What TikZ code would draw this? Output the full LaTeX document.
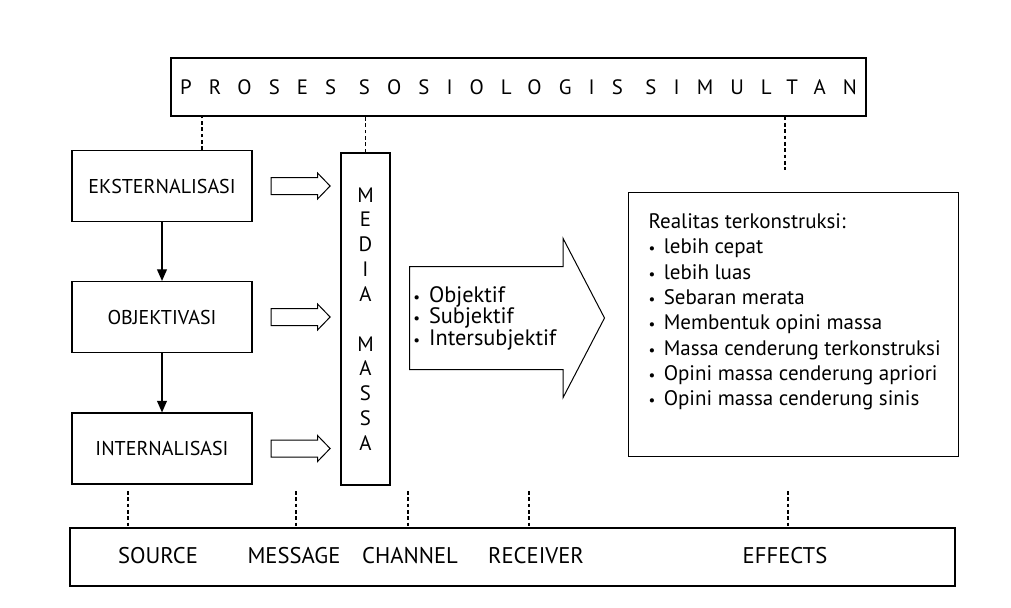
\documentclass[tikz,border=0pt]{standalone}
\usepackage{fontspec}
\setmainfont{PT Sans}
\usetikzlibrary{arrows.meta, shapes.arrows, calc}
\newcommand{\butir}{{\small\textbullet}\hspace{.4em}}

\begin{document}
\begin{tikzpicture}[x=0.6pt,y=-0.6pt,
  kotak/.style={draw, line width=.7pt, inner sep=0pt},
  lbox/.style={kotak, minimum width=108pt, minimum height=42.6pt, font=\fontsize{12}{14}\selectfont},
  panah/.style={draw, line width=.6pt, single arrow, inner xsep=0pt, inner ysep=4.8pt,
    single arrow head extend=2.7pt, single arrow tip angle=92, minimum height=35.4pt},
  titik/.style={line width=.8pt, dash pattern=on 2.2pt off 1.6pt},
  turun/.style={line width=.7pt, -{Triangle[length=7pt,width=6pt]}},
  label/.style={font=\fontsize{13.6}{15}\selectfont}]
\useasboundingbox (0,0) rectangle (1011,608);

\node[kotak, minimum width=417pt, minimum height=34.8pt, font=\fontsize{12.5}{14}\selectfont\addfontfeatures{LetterSpace=82}]
  (proses) at (518.5,87) {PROSES SOSIOLOGIS SIMULTAN};

\node[lbox] (eks) at (162,186) {EKSTERNALISASI};
\node[lbox] (obj) at (162,317) {OBJEKTIVASI};
\node[lbox] (int) at (162,448.5) {INTERNALISASI};
\draw[turun] (eks) -- (obj);
\draw[turun] (obj) -- (int);

\node[kotak, minimum width=29.4pt, minimum height=199.2pt, align=center,
  font=\fontsize{12.5}{14.9}\selectfont] (media) at (365.5,319)
  {M\\E\\D\\I\\A\\[14.9pt]M\\A\\S\\S\\A};

\node[panah] (p1) at ($(eks.east)!.5!(eks.east -| media.west)$) {};
\node[panah] (p2) at ($(obj.east)!.5!(obj.east -| media.west)$) {};
\node[panah] (p3) at ($(int.east)!.5!(int.east -| media.west)$) {};

\node[draw, line width=.6pt, single arrow, inner xsep=0pt, inner ysep=30.6pt, anchor=tail,
  minimum height=117pt, single arrow head extend=16.8pt, single arrow tip angle=125]
  (besar) at (409,318) {};
\node[anchor=west, align=left, inner sep=0pt, font=\fontsize{13.4}{12.9}\selectfont] (jenis) at ([xshift=2.4pt]besar.tail)
  {\butir Objektif\\\butir Subjektif\\\butir Intersubjektif};

\node[kotak, anchor=north west, inner xsep=12pt, inner ysep=11pt, font=\fontsize{12.6}{15.2}\selectfont]
  (realitas) at (628,192) {\begin{minipage}[c][136.4pt][t]{174pt}
  \begin{tabular}{@{}l@{}}
  Realitas terkonstruksi:\\
  \butir lebih cepat\\
  \butir lebih luas\\
  \butir Sebaran merata\\
  \butir Membentuk opini massa\\
  \butir Massa cenderung terkonstruksi\\
  \butir Opini massa cenderung apriori\\
  \butir Opini massa cenderung sinis
  \end{tabular}
  \end{minipage}};

\node[kotak, minimum width=531pt, minimum height=34.8pt] (bawah) at (512.5,557) {};
\node[label] (src) at (158,556) {SOURCE};
\node[label] (msg) at (294,556) {MESSAGE};
\node[label] (chn) at (410,556) {CHANNEL};
\node[label] (rcv) at (536,556) {RECEIVER};
\node[label] (eff) at (785,556) {EFFECTS};

\draw[titik] (eks.north -| 202,0) -- (202,0 |- proses.south);
\draw[titik] (media.north) -- (media.north |- proses.south);
\draw[titik] (785,0 |- proses.south) -- (785,170);
\foreach \x in {128,296,408,529,788}
  \draw[titik] (\x,491) -- (\x,0 |- bawah.north);
\end{tikzpicture}
\end{document}
